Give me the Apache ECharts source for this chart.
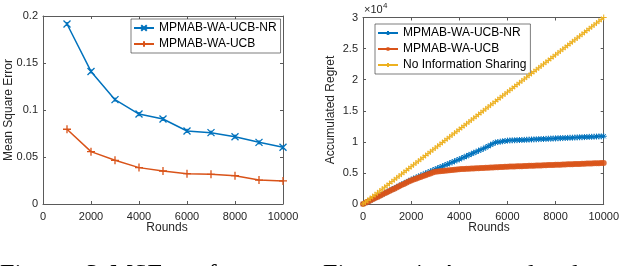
<!DOCTYPE html>
<html>
<head>
<meta charset="utf-8">
<script src="https://cdn.jsdelivr.net/npm/echarts@6/dist/echarts.min.js"></script>
<style>
html,body{margin:0;padding:0;background:#fff;}
#chart{width:622px;height:266px;}
</style>
</head>
<body>
<div id="chart"></div>
<script>
// ---- Left panel: MSE ----
var mseRounds = [1000, 2000, 3000, 4000, 5000, 6000, 7000, 8000, 9000, 10000];
var mseNR  = [0.1915, 0.141, 0.111, 0.0957, 0.0904, 0.0777, 0.0759, 0.0716, 0.0656, 0.0603];
var mseUCB = [0.0795, 0.0557, 0.0465, 0.0387, 0.0351, 0.0323, 0.0316, 0.0301, 0.0255, 0.0245];
var mseTicks = [0, 0.05, 0.1, 0.15, 0.2];

// ---- Right panel: accumulated regret ----
var regretRounds = [0,100,200,300,400,500,600,700,800,900,1000,1100,1200,1300,1400,1500,1600,1700,1800,1900,2000,
  2100,2200,2300,2400,2500,2600,2700,2800,2900,3000,3100,3200,3300,3400,3500,3600,3700,3800,3900,4000,
  4100,4200,4300,4400,4500,4600,4700,4800,4900,5000,5100,5200,5300,5400,5500,5600,5700,5800,5900,6000,
  6100,6200,6300,6400,6500,6600,6700,6800,6900,7000,7100,7200,7300,7400,7500,7600,7700,7800,7900,8000,
  8100,8200,8300,8400,8500,8600,8700,8800,8900,9000,9100,9200,9300,9400,9500,9600,9700,9800,9900,10000];
var regretNR = [0,200,400,590,780,975,1170,1360,1560,1750,1950,2140,2340,2530,2730,2920,3120,3310,3510,3700,3900,
  4070,4240,4410,4580,4750,4920,5090,5260,5430,5600,5760,5920,6080,6240,6400,6560,6720,6880,7040,7200,
  7370,7540,7710,7880,8050,8220,8390,8560,8730,8900,9100,9300,9500,9700,9900,9960,10020,10080,10140,10200,
  10220,10240,10250,10270,10290,10300,10320,10340,10360,10380,10390,10410,10430,10450,10460,10480,10500,10520,10530,10550,
  10570,10590,10600,10620,10640,10660,10670,10690,10710,10730,10740,10760,10780,10800,10810,10830,10850,10870,10880,10900];
var regretUCB = [0,190,380,570,760,950,1140,1330,1520,1710,1900,2090,2280,2470,2660,2850,3040,3230,3420,3610,3800,
  3940,4080,4220,4360,4500,4640,4780,4920,5060,5200,5240,5280,5320,5360,5400,5440,5480,5520,5560,5600,
  5620,5640,5660,5680,5700,5720,5740,5760,5780,5800,5820,5840,5860,5880,5900,5920,5940,5960,5980,6000,
  6015,6030,6045,6060,6075,6090,6105,6120,6135,6150,6165,6180,6195,6210,6225,6240,6255,6270,6285,6300,
  6315,6330,6345,6360,6375,6390,6405,6420,6435,6450,6465,6480,6495,6510,6525,6540,6555,6570,6585,6600];
var regretNoShare = [0,300,600,900,1200,1500,1800,2100,2400,2700,3000,3300,3600,3900,4200,4500,4800,5100,5400,5700,6000,
  6300,6600,6900,7200,7500,7800,8100,8400,8700,9000,9300,9600,9900,10200,10500,10800,11100,11400,11700,12000,
  12300,12600,12900,13200,13500,13800,14100,14400,14700,15000,15300,15600,15900,16200,16500,16800,17100,17400,17700,18000,
  18300,18600,18900,19200,19500,19800,20100,20400,20700,21000,21300,21600,21900,22200,22500,22800,23100,23400,23700,24000,
  24300,24600,24900,25200,25500,25800,26100,26400,26700,27000,27300,27600,27900,28200,28500,28800,29100,29400,29700,30000];

var seriesNames = ['MPMAB-WA-UCB-NR', 'MPMAB-WA-UCB', 'No Information Sharing'];
var xTitle = 'Rounds';
var yTitleLeft = 'Mean Square Error';
var yTitleRight = 'Accumulated Regret';

function zip(xs, ys){ return xs.map(function(x,i){ return [x, ys[i]]; }); }

var C_BLUE = '#0072BD', C_ORANGE = '#D95319', C_YELLOW = '#EDB120';
var AX = '#5a5a5a', TXT = '#262626';
var STAR = 'path://M0,5L10,5M5,0L5,10M1.5,1.5L8.5,8.5M8.5,1.5L1.5,8.5';
var CROSS = 'path://M0,0L10,10M10,0L0,10M5,2L5,8';
var PLUS = 'path://M5,0L5,10M0,5L10,5';
var FONT = 'Liberation Sans';

function mainX(grid){
  return {type:'value', gridIndex:grid, min:0, max:10000, interval:2000, position:'bottom',
    axisLine:{show:true, lineStyle:{color:AX, width:1}},
    axisTick:{show:true, inside:true, length:3, lineStyle:{color:AX}},
    axisLabel:{show:true, color:TXT, fontSize:11, fontFamily:FONT, margin:7, formatter:function(v){ return String(v); }},
    splitLine:{show:false}};
}
function mirrorX(grid){
  return {type:'value', gridIndex:grid, min:0, max:10000, interval:2000, position:'top',
    axisLine:{show:true, onZero:false, lineStyle:{color:AX, width:1}},
    axisTick:{show:true, inside:true, length:3, lineStyle:{color:AX}},
    axisLabel:{show:false}, splitLine:{show:false}};
}
function mainY(grid, max, interval, fmt){
  return {type:'value', gridIndex:grid, min:0, max:max, interval:interval, position:'left',
    axisLine:{show:true, onZero:false, lineStyle:{color:AX, width:1}},
    axisTick:{show:true, inside:true, length:3, lineStyle:{color:AX}},
    axisLabel:{show:true, color:TXT, fontSize:11, fontFamily:FONT, margin:5, formatter:fmt},
    splitLine:{show:false}};
}
function mirrorY(grid, max, interval){
  return {type:'value', gridIndex:grid, min:0, max:max, interval:interval, position:'right',
    axisLine:{show:true, onZero:false, lineStyle:{color:AX, width:1}},
    axisTick:{show:true, inside:true, length:3, lineStyle:{color:AX}},
    axisLabel:{show:false}, splitLine:{show:false}};
}

var chart = echarts.init(document.getElementById('chart'), null, {renderer:'canvas'});
var option = {
  animation:false,
  backgroundColor:'#fff',
  grid:[
    {left:43, top:16, width:240, height:188},
    {left:363, top:17.5, width:242, height:186.5}
  ],
  xAxis:[mainX(0), mirrorX(0), mainX(1), mirrorX(1)],
  yAxis:[
    mainY(0, mseTicks[mseTicks.length-1], mseTicks[1]-mseTicks[0], function(v){ return String(v); }),
    mirrorY(0, mseTicks[mseTicks.length-1], mseTicks[1]-mseTicks[0]),
    mainY(1, 30000, 5000, function(v){ return String(v/10000); }),
    mirrorY(1, 30000, 5000)
  ],
  legend:[
    {data:[seriesNames[0], seriesNames[1]], orient:'vertical', left:131, top:19,
     padding:[2,4,2,2], itemGap:2, itemWidth:20, itemHeight:7,
     backgroundColor:'#fff', borderColor:'#262626', borderWidth:0.6,
     textStyle:{fontSize:12, fontFamily:FONT, color:'#000', lineHeight:14}},
    {data:[seriesNames[0]+' ', seriesNames[1]+' ', seriesNames[2]], orient:'vertical', left:375, top:24,
     padding:[2,4,2,2], itemGap:2, itemWidth:20, itemHeight:5,
     backgroundColor:'#fff', borderColor:'#262626', borderWidth:0.6,
     textStyle:{fontSize:12, fontFamily:FONT, color:'#000', lineHeight:14},
     formatter:function(n){ return n.trim(); }}
  ],
  series:[
    {name:seriesNames[0], type:'line', xAxisIndex:0, yAxisIndex:0, data:zip(mseRounds, mseNR),
     symbol:CROSS, symbolSize:7, showAllSymbol:true,
     lineStyle:{color:C_BLUE, width:1.5}, itemStyle:{color:C_BLUE, borderColor:C_BLUE, borderWidth:1.3}, z:3},
    {name:seriesNames[1], type:'line', xAxisIndex:0, yAxisIndex:0, data:zip(mseRounds, mseUCB),
     symbol:PLUS, symbolSize:8, showAllSymbol:true,
     lineStyle:{color:C_ORANGE, width:1.5}, itemStyle:{color:C_ORANGE, borderColor:C_ORANGE, borderWidth:1.3}, z:3},
    {name:seriesNames[0]+' ', type:'line', xAxisIndex:2, yAxisIndex:2, data:zip(regretRounds, regretNR),
     symbol:STAR, symbolSize:6, showAllSymbol:true,
     lineStyle:{color:C_BLUE, width:1}, itemStyle:{color:C_BLUE, borderColor:C_BLUE, borderWidth:1}, z:3},
    {name:seriesNames[1]+' ', type:'line', xAxisIndex:2, yAxisIndex:2, data:zip(regretRounds, regretUCB),
     symbol:'circle', symbolSize:6, showAllSymbol:true,
     lineStyle:{color:C_ORANGE, width:1}, itemStyle:{color:C_ORANGE, borderColor:C_ORANGE, borderWidth:0, opacity:0.85}, z:4},
    {name:seriesNames[2], type:'line', xAxisIndex:2, yAxisIndex:2, data:zip(regretRounds, regretNoShare),
     symbol:PLUS, symbolSize:6, showAllSymbol:true,
     lineStyle:{color:C_YELLOW, width:1}, itemStyle:{color:C_YELLOW, borderColor:C_YELLOW, borderWidth:1}, z:5}
  ],
  graphic:[
    {type:'text', x:167, y:228, style:{text:xTitle, font:'12px "Liberation Sans"', fill:TXT, textAlign:'center', textVerticalAlign:'middle'}},
    {type:'text', x:489, y:228, style:{text:xTitle, font:'12px "Liberation Sans"', fill:TXT, textAlign:'center', textVerticalAlign:'middle'}},
    {type:'text', x:9, y:110, rotation:Math.PI/2, style:{text:yTitleLeft, font:'12px "Liberation Sans"', fill:TXT, textAlign:'center', textVerticalAlign:'middle'}},
    {type:'text', x:331, y:110, rotation:Math.PI/2, style:{text:yTitleRight, font:'12px "Liberation Sans"', fill:TXT, textAlign:'center', textVerticalAlign:'middle'}},
    {type:'text', x:364, y:10, style:{text:'\u00d710', font:'11px "Liberation Sans"', fill:TXT, textAlign:'left', textVerticalAlign:'middle'}},
    {type:'text', x:383, y:6, style:{text:'4', font:'8px "Liberation Sans"', fill:TXT, textAlign:'left', textVerticalAlign:'middle'}},
    {type:'text', x:0, y:262, style:{text:'Figure', font:'26px "Liberation Serif"', fill:'#000', textAlign:'left', textVerticalAlign:'top'}},
    {type:'text', x:86, y:262, style:{text:'3:', font:'26px "Liberation Serif"', fill:'#000', textAlign:'left', textVerticalAlign:'top'}},
    {type:'text', x:110, y:262, style:{text:'MSE', font:'26px "Liberation Serif"', fill:'#000', textAlign:'left', textVerticalAlign:'top'}},
    {type:'text', x:195, y:262, style:{text:'of', font:'26px "Liberation Serif"', fill:'#000', textAlign:'left', textVerticalAlign:'top'}},
    {type:'text', x:323, y:262, style:{text:'Figure', font:'26px "Liberation Serif"', fill:'#000', textAlign:'left', textVerticalAlign:'top'}},
    {type:'text', x:410, y:262, style:{text:'4:', font:'26px "Liberation Serif"', fill:'#000', textAlign:'left', textVerticalAlign:'top'}},
    {type:'text', x:440, y:262, style:{text:'Accumulated', font:'26px "Liberation Serif"', fill:'#000', textAlign:'left', textVerticalAlign:'top'}}
  ]
};
chart.setOption(option);
</script>
</body>
</html>
